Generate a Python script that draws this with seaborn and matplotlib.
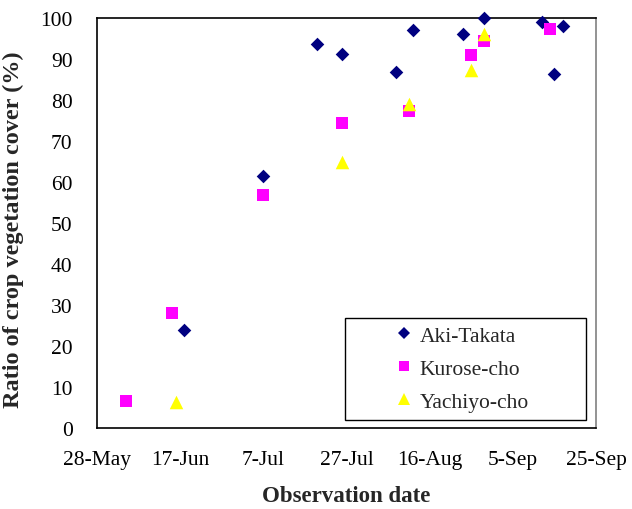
import matplotlib
matplotlib.use("Agg")
import matplotlib.pyplot as plt
import matplotlib.dates as mdates
from matplotlib.patches import Rectangle
from matplotlib.lines import Line2D
import seaborn as sns
import pandas as pd

# ---- data ----
aki_dates = ["2004-06-18", "2004-07-07", "2004-07-20", "2004-07-26", "2004-08-08",
             "2004-08-12", "2004-08-24", "2004-08-29", "2004-09-12", "2004-09-15", "2004-09-17"]
aki_vals = [23.9, 61.5, 93.7, 91.2, 86.8, 97.1, 96.1, 100.0, 99.1, 86.3, 98.0]

kurose_dates = ["2004-06-04", "2004-06-15", "2004-07-07", "2004-07-26", "2004-08-11",
                "2004-08-26", "2004-08-29", "2004-09-14"]
kurose_vals = [6.5, 28.0, 56.8, 74.4, 77.3, 91.0, 94.4, 97.3]

yachiyo_dates = ["2004-06-16", "2004-07-26", "2004-08-11", "2004-08-26", "2004-08-29"]
yachiyo_vals = [6.3, 64.8, 79.0, 87.3, 96.0]

site_names = ["Aki-Takata", "Kurose-cho", "Yachiyo-cho"]
tick_dates = ["2004-05-28", "2004-06-17", "2004-07-07", "2004-07-27",
              "2004-08-16", "2004-09-05", "2004-09-25"]
y_ticks = [0, 10, 20, 30, 40, 50, 60, 70, 80, 90, 100]

# ---- styling ----
sns.set_style("white")
plt.rcParams["font.family"] = ["Liberation Serif", "DejaVu Serif"]

series = [
    (site_names[0], aki_dates, aki_vals, "D", "#000080", 48),
    (site_names[1], kurose_dates, kurose_vals, "s", "#FF00FF", 64),
    (site_names[2], yachiyo_dates, yachiyo_vals, "^", "#FFFF00", 95),
]

fig = plt.figure(figsize=(6.32, 5.10), dpi=100)
ax = fig.add_axes([97 / 632, 1 - 429 / 510, (596 - 97) / 632, (429 - 19) / 510])

handles = []
for name, d, v, m, c, s in series:
    df = pd.DataFrame({"date": pd.to_datetime(d), "value": v})
    sns.scatterplot(data=df, x="date", y="value", marker=m, color=c, s=s,
                    linewidth=0, ax=ax, clip_on=False, zorder=3)
    handles.append(Line2D([], [], linestyle="none", marker=m, color=c,
                          markersize=(s ** 0.5) * 0.95, markeredgewidth=0, label=name))

ax.set_xlim(pd.Timestamp(tick_dates[0]), pd.Timestamp(tick_dates[-1]))
ax.set_ylim(0, 100)
ax.set_xticks(pd.to_datetime(tick_dates))
ax.xaxis.set_major_formatter(mdates.DateFormatter("%-d-%b"))
ax.set_yticks(y_ticks)

ax.tick_params(axis="both", direction="inout", length=7, width=1, colors="black",
               labelsize=15.5)
ax.tick_params(axis="x", pad=12)
ax.tick_params(axis="y", pad=14)

for sp in ["left", "bottom", "top"]:
    ax.spines[sp].set_color("black")
    ax.spines[sp].set_linewidth(1.2)
ax.spines["right"].set_color("#808080")
ax.spines["right"].set_linewidth(1.2)

ax.set_xlabel("Observation date", fontsize=16.5, fontweight="bold", labelpad=12)
ax.set_ylabel("Ratio of crop vegetation cover (%)", fontsize=17.5, fontweight="bold")
ax.yaxis.set_label_coords(-0.146, 0.485)

# legend frame and legend
ax.add_patch(Rectangle((0.497, 0.0195), 0.483, 0.249, transform=ax.transAxes,
                       fill=True, facecolor="white", edgecolor="black", linewidth=1,
                       zorder=4))
leg = ax.legend(handles=handles, loc="center left", bbox_to_anchor=(0.577, 0.145),
                borderaxespad=0, frameon=False, fontsize=15.5, labelspacing=0.6,
                handletextpad=0.2, handlelength=1.0)
leg.set_zorder(5)

fig.savefig("out.png", dpi=100)
